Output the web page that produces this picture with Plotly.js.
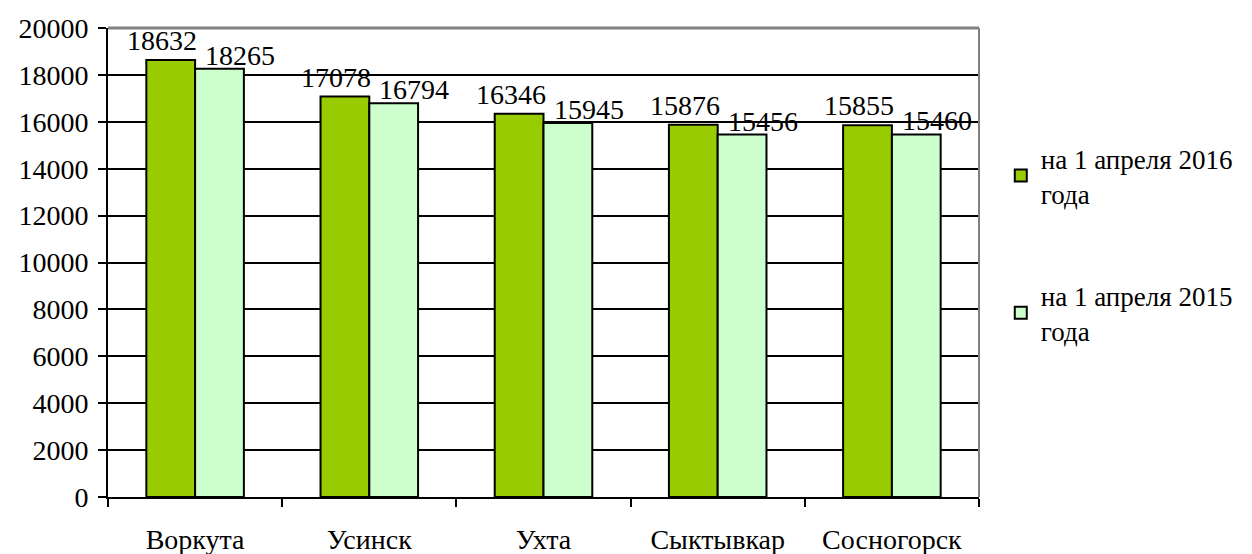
<!DOCTYPE html>
<html><head><meta charset="utf-8">
<script src="https://cdn.plot.ly/plotly-3.0.1.min.js"></script>
<style>body{margin:0;background:#fff}#c{width:1252px;height:554px}</style>
</head><body><div id="c"></div>
<script>
const categories = ["Воркута","Усинск","Ухта","Сыктывкар","Сосногорск"];
const values2016 = [18632,17078,16346,15876,15855];
const values2015 = [18265,16794,15945,15456,15460];
const seriesNames = ["на 1 апреля 2016<br>года","на 1 апреля 2015<br>года"];
const yTicks = [0,2000,4000,6000,8000,10000,12000,14000,16000,18000,20000];

const FAM = "Liberation Serif";
const F = (s) => ({family:FAM, size:s||28, color:"#000"});
const mk = (name, vals, color, grp) => ({
  type:"bar", name:name, x:categories, y:vals, legendgroup:grp,
  marker:{color:color, line:{color:"#000", width:2}},
  hoverinfo:"x+y"
});
const data = [
  mk(seriesNames[0], values2016, "#99cc00", "a"),
  mk(seriesNames[1], values2015, "#ccffcc", "b")
];
const labelAnn = (vals, dx, dy) => vals.map((v,i) => ({
  x:categories[i], y:v, xref:"x", yref:"y", text:String(v), showarrow:false,
  xanchor:"center", yanchor:"bottom", xshift:dx, yshift:dy, font:F(28)
}));
const layout = {
  width:1252, height:554,
  margin:{l:108, r:273, t:28, b:57},
  paper_bgcolor:"#fff", plot_bgcolor:"#fff",
  font:F(28),
  barmode:"group", bargap:0.44, bargroupgap:0,
  showlegend:true,
  legend:{x:1.025, y:0.774, xanchor:"left", yanchor:"top", font:F(27),
    traceorder:"grouped", tracegroupgap:64, itemwidth:30, bgcolor:"rgba(0,0,0,0)"},
  xaxis:{type:"category", showgrid:false, showline:true, linecolor:"#000", linewidth:2,
    ticks:"outside", tickson:"boundaries", ticklen:8, tickwidth:2, tickcolor:"#000",
    ticklabelstandoff:16, tickfont:F(28)},
  yaxis:{range:[0,20000], tickvals:yTicks, ticktext:yTicks.map(String),
    showgrid:true, gridcolor:"#000", gridwidth:2, zeroline:false,
    showline:true, linecolor:"#000", linewidth:2,
    ticks:"outside", ticklen:8, tickwidth:2, tickcolor:"#000", tickfont:F(28), ticklabelstandoff:4},
  annotations: labelAnn(values2016, -33, 2).concat(labelAnn(values2015, 45, -4)),
  shapes:[
    {type:"line", xref:"paper", yref:"paper", x0:0, x1:1, y0:1, y1:1, line:{color:"#808080", width:3}},
    {type:"line", xref:"paper", yref:"paper", x0:1, x1:1, y0:0, y1:1, line:{color:"#808080", width:2}}
  ]
};
Plotly.newPlot("c", data, layout, {displayModeBar:false});
</script></body></html>
